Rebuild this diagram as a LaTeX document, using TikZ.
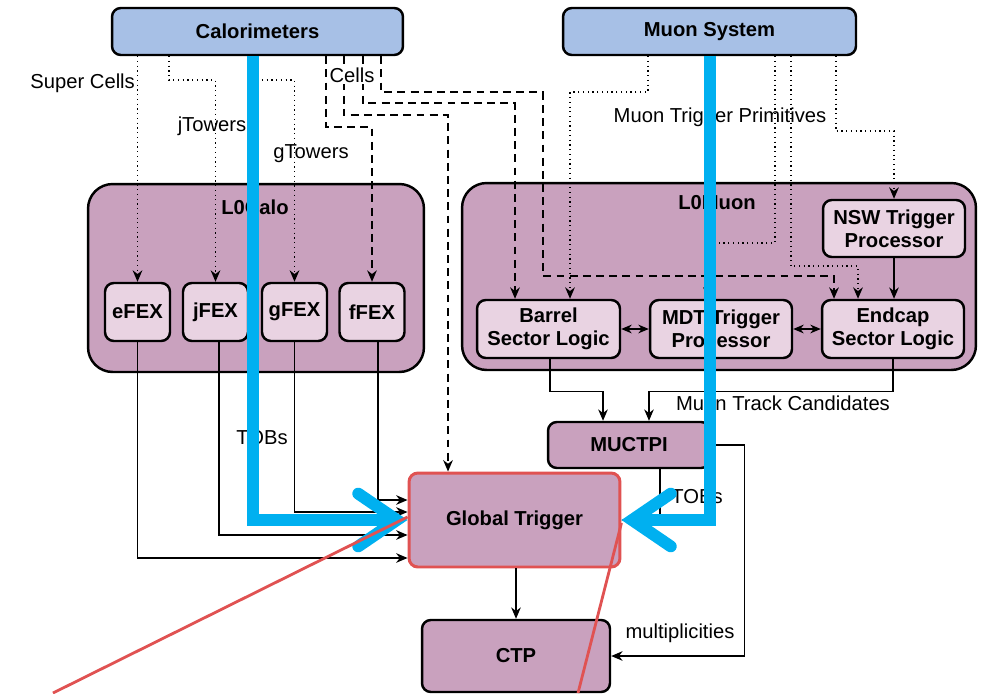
\documentclass[tikz,border=0pt]{standalone}
\usepackage{fontspec}
\setmainfont{Liberation Sans}
\usepackage{xcolor}
\usetikzlibrary{positioning,arrows.meta,calc}

\definecolor{topblue}{HTML}{A7C0E6}
\definecolor{mauve}{HTML}{C9A1BE}
\definecolor{lightmauve}{HTML}{E9D3E2}
\definecolor{hiblue}{HTML}{00B0F0}
\definecolor{hired}{HTML}{E05252}

\begin{document}
\begin{tikzpicture}[x=0.02cm,y=-0.02cm,
  font=\fontsize{11.5}{13}\selectfont,
  box/.style={draw,line width=1.4pt,rounded corners=5pt,inner sep=0pt,
    align=center,font=\fontsize{11.5}{13}\selectfont\bfseries},
  topbox/.style={box,fill=topblue},
  group/.style={box,fill=mauve,rounded corners=14pt},
  fexbox/.style={box,fill=lightmauve,minimum width=1.3cm,minimum height=1.16cm},
  slbox/.style={box,fill=lightmauve,minimum width=2.84cm,minimum height=1.16cm},
  mainbox/.style={box,fill=mauve},
  lbl/.style={inner sep=1pt},
  arr/.style={line width=0.7pt,-{Stealth[length=6.5pt,width=5.5pt]}},
  darr/.style={line width=0.7pt,{Stealth[length=6pt,width=5pt]}-{Stealth[length=6pt,width=5pt]}},
  dotarr/.style={arr,dotted,line width=1pt},
  dasharr/.style={arr,dash pattern=on 4.5pt off 3pt,line width=0.9pt},
  hilite/.style={draw=hiblue,line width=6.8pt,
    -{Straight Barb[length=22pt,width=30pt,line cap=round]}},
  redline/.style={draw=hired,line width=1.6pt}]
  \useasboundingbox (0,0) rectangle (987,693);

  % sources
  \node[topbox,minimum width=5.82cm,minimum height=0.94cm] (cal) at (257.5,31.5) {Calorimeters};
  \node[topbox,minimum width=5.86cm,minimum height=0.94cm] (muon) at (709.5,31.5) {Muon System};

  % L0Calo
  \node[group,minimum width=6.72cm,minimum height=3.76cm] (l0calo) at (256,278) {};
  \node[font=\fontsize{11.5}{13}\selectfont\bfseries] (l0calolbl) at (255,207) {L0Calo};
  \node[fexbox] (efex) at (137.5,312) {eFEX};
  \node[fexbox] (jfex) at (215.5,312) {jFEX};
  \node[fexbox] (gfex) at (294.5,312) {gFEX};
  \node[fexbox] (ffex) at (372,312) {fFEX};

  % L0Muon
  \node[group,minimum width=10.28cm,minimum height=3.74cm] (l0muon) at (719,276.5) {};
  \node[font=\fontsize{11.5}{13}\selectfont\bfseries] (l0muonlbl) at (717,203) {L0Muon};
  \node[slbox,minimum height=1.14cm] (nsw) at (894,228.5) {NSW Trigger\\Processor};
  \node[slbox,minimum width=2.86cm] (barrel) at (548.5,329) {Barrel\\Sector Logic};
  \node[slbox] (mdt) at (721,329) {MDT Trigger\\Processor};
  \node[slbox] (endcap) at (893,329) {Endcap\\Sector Logic};

  \node[mainbox,minimum width=3.24cm,minimum height=0.92cm] (muctpi) at (629,445) {MUCTPI};
  \node[mainbox,draw=hired,line width=1.7pt,minimum width=4.22cm,minimum height=1.88cm] (gt) at (514.5,520) {Global Trigger};
  \node[mainbox,minimum width=3.76cm,minimum height=1.44cm] (ctp) at (516,656) {CTP};

  % calorimeter inputs
  \draw[dotarr] (efex |- cal.south) -- node[lbl,pos=0.12,left] {Super Cells} (efex);
  \draw[dotarr] ([xshift=1.16cm]cal.south west) -- ++(0,24) -| (jfex);
  \draw[dotarr] ([xshift=2.84cm]cal.south west) -- ++(0,24) -| (gfex);
  \draw[dasharr] ([xshift=4.30cm]cal.south west) -- ++(0,71) -| (ffex);
  \draw[dasharr] ([xshift=4.66cm]cal.south west) -- ++(0,59) -| ([xshift=-1.33cm]gt.north);
  \draw[dasharr] ([xshift=5.04cm]cal.south west) -- ++(0,47) -| ([xshift=-0.67cm]barrel.north);
  \draw[dasharr] ([xshift=5.40cm]cal.south west) -- ++(0,36) -- ++(162,0)
    |- ([xshift=-1.18cm,yshift=0.46cm]endcap.north) -- ([xshift=-1.18cm]endcap.north);
  \node[lbl,fill=white] (cells) at (352,75) {Cells};
  \node[lbl] (jtow) at (212,126) {jTowers};
  \node[lbl] (gtow) at (311,154) {gTowers};

  % muon inputs
  \draw[dotarr] ([xshift=1.72cm]muon.south west) -- ++(0,36) -| ([xshift=0.43cm]barrel.north);
  \draw[dotarr] ([xshift=4.26cm]muon.south west) -- ++(0,187) -| ([xshift=-0.26cm]mdt.north);
  \draw[dotarr] ([xshift=4.58cm]muon.south west) -- ++(0,210) -| ([xshift=-0.70cm]endcap.north);
  \draw[dotarr] ([xshift=5.48cm]muon.south west) -- ++(0,75) -| (nsw);
  \node[lbl] (mtp) at (720,117) {Muon Trigger Primitives};

  \draw[arr] (nsw.south) -- (nsw.south |- endcap.north);
  \draw[darr] (barrel) -- (mdt);
  \draw[darr] (mdt) -- (endcap);

  % to MUCTPI
  \draw[arr] ([xshift=0.03cm]barrel.south) -- ++(0,32) -| ([xshift=-0.52cm]muctpi.north);
  \draw[arr] (endcap.south) -- ++(0,32) -| ([xshift=0.40cm]muctpi.north);
  \node[lbl] (mtc) at (783,403) {Muon Track Candidates};

  % to Global Trigger and CTP
  \draw[arr] (efex.south) |- ([yshift=-0.76cm]gt.west);
  \draw[arr] ([xshift=0.07cm]jfex.south) |- ([yshift=-0.30cm]gt.west);
  \draw[arr] (gfex.south) |- ([yshift=0.16cm]gt.west);
  \draw[arr] ([xshift=0.12cm]ffex.south) |- ([yshift=0.40cm]gt.west);
  \node[lbl] (tobs) at (262,438) {TOBs};
  \draw[arr] ([xshift=0.62cm]muctpi.south) |- (gt.east);
  \node[lbl] (mtobs) at (697,497) {TOBs};
  \draw[arr] (muctpi.east) -- ++(33,0) |- (ctp.east);
  \node[lbl] (mult) at (680,633) {multiplicities};
  \draw[arr] (ctp.north |- gt.south) -- (ctp.north);

  % highlight
  \draw[hilite] ([xshift=2.84cm]cal.south west) |- (gt.west);
  \draw[hilite] ([xshift=2.96cm]muon.south west) |- (gt.east);
  \coordinate (rl) at (53,693);
  \coordinate (rr) at (578,693);
  \draw[redline] ([yshift=0.06cm]gt.west) -- (rl);
  \draw[redline] ([yshift=-0.06cm]gt.east) -- (rr);
\end{tikzpicture}
\end{document}
